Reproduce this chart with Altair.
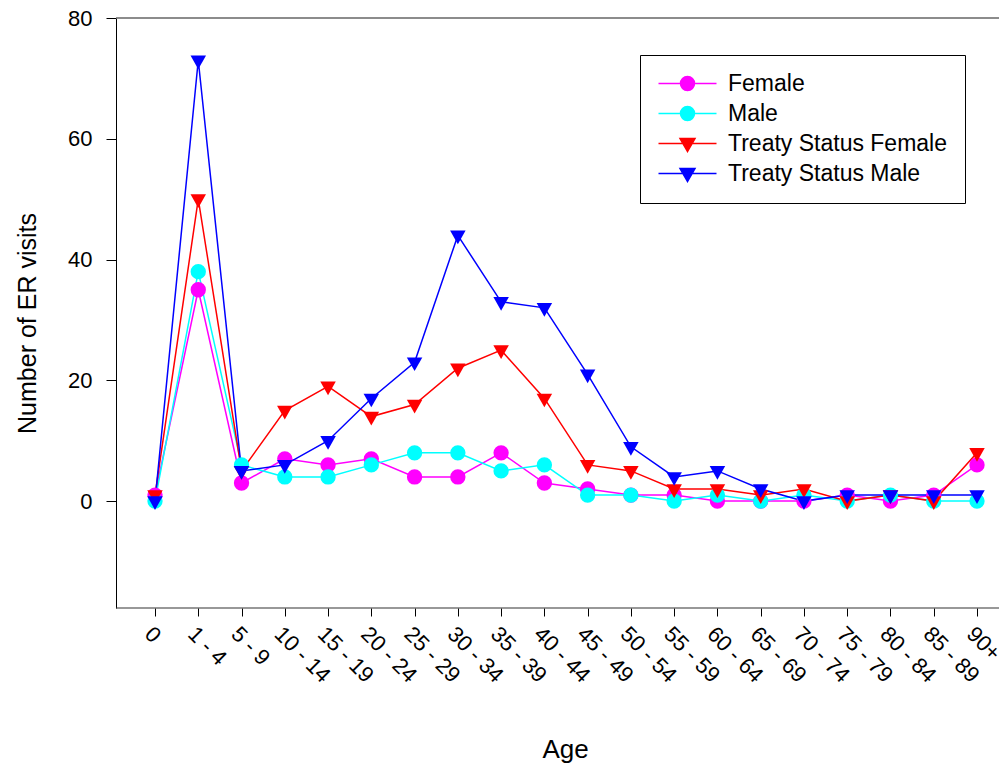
import altair as alt
import pandas as pd

ages = ["0", "1 - 4", "5 - 9", "10 - 14", "15 - 19", "20 - 24", "25 - 29", "30 - 34",
        "35 - 39", "40 - 44", "45 - 49", "50 - 54", "55 - 59", "60 - 64", "65 - 69",
        "70 - 74", "75 - 79", "80 - 84", "85 - 89", "90+"]
female = [1, 35, 3, 7, 6, 7, 4, 4, 8, 3, 2, 1, 1, 0, 0, 0, 1, 0, 1, 6]
male = [0, 38, 6, 4, 4, 6, 8, 8, 5, 6, 1, 1, 0, 1, 0, 1, 0, 1, 0, 0]
treaty_female = [1, 50, 5, 15, 19, 14, 16, 22, 25, 17, 6, 5, 2, 2, 1, 2, 0, 1, 0, 8]
treaty_male = [0, 73, 5, 6, 10, 17, 23, 44, 33, 32, 21, 9, 4, 5, 2, 0, 1, 1, 1, 1]

series_names = ["Female", "Male", "Treaty Status Female", "Treaty Status Male"]
series_values = [female, male, treaty_female, treaty_male]
series_colors = ["#FF00FF", "#00FFFF", "#FF0000", "#0000FF"]

rows = []
for name, vals in zip(series_names, series_values):
    for a, v in zip(ages, vals):
        rows.append({"age": a, "visits": v, "series": name})
df = pd.DataFrame(rows)

FONT = "Liberation Sans, Arial, sans-serif"
W, H = 883, 590

TRI = "M-1,-0.62L1,-0.62L0,1.15Z"
LEG_CIRCLE = "M-1,0H4.8M2.6,0A0.7,0.7,0,1,1,1.2,0A0.7,0.7,0,1,1,2.6,0Z"
LEG_TRI = "M-1,0H4.8M1.15,-0.5L2.65,-0.5L1.9,0.8Z"

x_enc = alt.X("age:N", sort=ages,
              scale=alt.Scale(type="point", range=[39, 861], padding=0),
              axis=alt.Axis(title="Age", labelAngle=45, labelFontSize=22, labelFont=FONT,
                            labelColor="black", tickColor="black", tickSize=8,
                            labelPadding=7, domain=False, grid=False,
                            titleFontSize=26, titleFont=FONT, titleFontWeight="normal",
                            titleColor="black", titleX=449, titleY=149,
                            titleAlign="center", titleBaseline="alphabetic"))
y_enc = alt.Y("visits:Q",
              scale=alt.Scale(domain=[-17.7, 80], nice=False, zero=False),
              axis=alt.Axis(title="Number of ER visits", values=[0, 20, 40, 60, 80],
                            labelFontSize=22, labelFont=FONT, labelColor="black",
                            tickColor="black", tickSize=10, labelPadding=14,
                            domainColor="black", domainWidth=1, grid=False,
                            titleFontSize=25, titleFont=FONT, titleFontWeight="normal",
                            titleColor="black", titleX=-89, titleY=305,
                            titleAlign="center", titleBaseline="middle"))

color_scale = alt.Scale(domain=series_names, range=series_colors)

lines = alt.Chart(df).mark_line(strokeWidth=1.5).encode(
    x=x_enc, y=y_enc,
    color=alt.Color("series:N", scale=color_scale, legend=None),
)

circles = alt.Chart(df).transform_filter(
    alt.FieldOneOfPredicate(field="series", oneOf=series_names[:2])
).mark_point(filled=True, opacity=1, size=235, shape="circle").encode(
    x=x_enc, y=y_enc,
    color=alt.Color("series:N", scale=color_scale, legend=None),
)

triangles = alt.Chart(df).transform_filter(
    alt.FieldOneOfPredicate(field="series", oneOf=series_names[2:])
).mark_point(filled=True, opacity=1, size=240, shape=TRI).encode(
    x=x_enc, y=y_enc,
    color=alt.Color("series:N", scale=color_scale, legend=None),
)

leg = alt.Legend(
    title=None, orient="none", legendX=524, legendY=37,
    padding=17, strokeColor="black", fillColor="white",
    labelFontSize=23, labelFont=FONT, labelColor="black", labelLimit=500,
    symbolSize=400, labelOffset=48, rowPadding=6,
    symbolStrokeWidth=1.5, symbolOpacity=1,
)

legend_proxy = alt.Chart(df).mark_point(filled=True, opacity=0).encode(
    x=x_enc, y=y_enc,
    fill=alt.Fill("series:N", scale=alt.Scale(domain=series_names, range=series_colors), legend=leg),
    stroke=alt.Stroke("series:N", scale=alt.Scale(domain=series_names, range=series_colors), legend=leg),
    shape=alt.Shape("series:N",
                    scale=alt.Scale(domain=series_names,
                                    range=[LEG_CIRCLE, LEG_CIRCLE, LEG_TRI, LEG_TRI]),
                    legend=leg),
)

frame_data = alt.Data(values=[{"k": 1}])
top_line = alt.Chart(frame_data).mark_rule(color="#666666", strokeWidth=1.3).encode(
    x=alt.value(0), x2=alt.value(W), y=alt.value(0))
bottom_line = alt.Chart(frame_data).mark_rule(color="#333333", strokeWidth=1.2).encode(
    x=alt.value(0), x2=alt.value(W), y=alt.value(H))

chart = alt.layer(top_line, bottom_line, legend_proxy, lines, circles, triangles).properties(
    width=W, height=H,
    autosize=alt.AutoSizeParams(type="none"),
    padding={"left": 116, "top": 18, "right": 0, "bottom": 160},
    background="white",
).configure_view(stroke=None)

chart.save("out.html", embed_options={"renderer": "svg", "actions": False})
